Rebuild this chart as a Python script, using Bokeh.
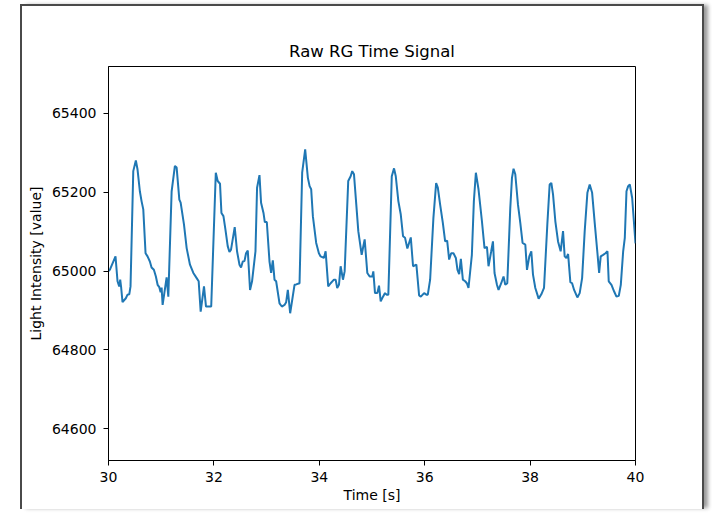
from bokeh.plotting import figure
from bokeh.models import FixedTicker
from bokeh.embed import file_html
from bokeh.resources import INLINE

title_text = "Raw RG Time Signal"
x_label = "Time [s]"
y_label = "Light Intensity [value]"
x_ticks = [30, 32, 34, 36, 38, 40]
y_ticks = [64600, 64800, 65000, 65200, 65400]

time_s = [
    30.000, 30.025, 30.133, 30.171, 30.203, 30.222, 30.241, 30.266, 30.329, 30.361,
    30.394, 30.418, 30.470, 30.519, 30.551, 30.595, 30.627, 30.660, 30.703, 30.741,
    30.785, 30.817, 30.861, 30.899, 30.932, 30.964, 30.989, 31.008, 31.027, 31.103,
    31.135, 31.198, 31.260, 31.293, 31.344, 31.369, 31.432, 31.483, 31.546, 31.610,
    31.673, 31.711, 31.749, 31.812, 31.850, 31.949, 32.036, 32.072, 32.116, 32.143,
    32.181, 32.219, 32.262, 32.295, 32.325, 32.395, 32.439, 32.485, 32.515, 32.548,
    32.580, 32.610, 32.643, 32.686, 32.724, 32.789, 32.819, 32.865, 32.895, 32.941,
    32.966, 33.004, 33.055, 33.086, 33.118, 33.150, 33.181, 33.245, 33.289, 33.340,
    33.371, 33.403, 33.447, 33.530, 33.561, 33.625, 33.675, 33.732, 33.783, 33.816,
    33.846, 33.878, 33.941, 33.992, 34.025, 34.087, 34.120, 34.169, 34.215, 34.278,
    34.310, 34.340, 34.373, 34.405, 34.449, 34.481, 34.549, 34.595, 34.625, 34.658,
    34.702, 34.740, 34.804, 34.861, 34.911, 34.956, 35.006, 35.025, 35.057, 35.101,
    35.133, 35.165, 35.209, 35.247, 35.279, 35.310, 35.375, 35.418, 35.451, 35.500,
    35.546, 35.589, 35.627, 35.671, 35.736, 35.779, 35.842, 35.894, 35.926, 35.989,
    36.032, 36.059, 36.103, 36.165, 36.217, 36.249, 36.293, 36.344, 36.388, 36.426,
    36.464, 36.502, 36.546, 36.591, 36.622, 36.654, 36.686, 36.724, 36.768, 36.800,
    36.831, 36.895, 36.933, 36.971, 37.021, 37.086, 37.135, 37.181, 37.211, 37.262,
    37.295, 37.325, 37.371, 37.401, 37.452, 37.496, 37.529, 37.567, 37.624, 37.656,
    37.686, 37.719, 37.770, 37.814, 37.857, 37.909, 37.941, 37.985, 38.023, 38.055,
    38.099, 38.162, 38.213, 38.264, 38.327, 38.371, 38.403, 38.435, 38.479, 38.530,
    38.580, 38.625, 38.656, 38.688, 38.721, 38.764, 38.797, 38.835, 38.897, 38.941,
    38.987, 39.036, 39.087, 39.131, 39.177, 39.226, 39.278, 39.310, 39.340, 39.386,
    39.430, 39.468, 39.492, 39.544, 39.595, 39.639, 39.683, 39.721, 39.766, 39.797,
    39.829, 39.861, 39.892, 39.937, 40.000,
]

intensity = [
    65000, 65003, 65037, 64974, 64961, 64978, 64957, 64921, 64931, 64940,
    64941, 64961, 65253, 65280, 65257, 65202, 65177, 65156, 65045, 65037,
    65024, 65009, 65003, 64986, 64965, 64959, 64946, 64958, 64914, 64984,
    64935, 65202, 65266, 65262, 65181, 65173, 65118, 65058, 65016, 64995,
    64982, 64974, 64897, 64961, 64910, 64910, 65249, 65228, 65221, 65147,
    65139, 65105, 65063, 65048, 65054, 65111, 65050, 65016, 65009, 65024,
    65025, 65045, 65052, 64952, 64974, 65050, 65211, 65243, 65173, 65147,
    65124, 65124, 65024, 64995, 65027, 64978, 64974, 64918, 64910, 64914,
    64921, 64952, 64893, 64965, 64966, 64969, 65249, 65308, 65236, 65215,
    65207, 65139, 65071, 65045, 65037, 65033, 65050, 64961, 64969, 64978,
    64978, 64957, 64965, 65012, 64978, 64999, 65228, 65240, 65253, 65245,
    65168, 65101, 65041, 65080, 64995, 64986, 64986, 64999, 64944, 64944,
    64963, 64923, 64935, 64944, 64940, 64940, 65240, 65260, 65240, 65177,
    65143, 65088, 65084, 65057, 65085, 65012, 65016, 64938, 64935, 64944,
    64940, 64940, 64978, 65134, 65223, 65211, 65168, 65122, 65075, 65077,
    65029, 65045, 65045, 65033, 65003, 64992, 65031, 64978, 64974, 64969,
    64957, 65041, 65177, 65249, 65207, 65126, 65058, 65061, 65012, 65050,
    65075, 64995, 64965, 64952, 64969, 64986, 64965, 64969, 65160, 65236,
    65259, 65245, 65168, 65122, 65071, 65067, 65003, 65037, 65050, 64991,
    64957, 64930, 64941, 64957, 65118, 65219, 65223, 65194, 65126, 65075,
    65050, 65101, 65037, 65033, 65043, 64972, 64969, 64952, 64933, 64944,
    64982, 65101, 65198, 65219, 65198, 65122, 65045, 64995, 65037, 65041,
    65045, 65050, 64974, 64965, 64948, 64935, 64937, 64965, 65050, 65084,
    65202, 65215, 65219, 65185, 65070,
]

FONT = "DejaVu Sans"

p = figure(
    width=684, height=505,
    x_range=(30, 40), y_range=(64520, 65518),
    output_backend="svg", toolbar_location=None,
    min_border_left=86, min_border_right=71,
    min_border_top=60, min_border_bottom=51,
    margin=(4, 0, 0, 20),
    title=title_text,
    styles={
        "border-top": "2px solid #4a4a4a",
        "border-left": "2px solid #4a4a4a",
        "border-right": "2px solid #4a4a4a",
        "box-shadow": "5px 0px 4px -1px rgba(0,0,0,0.4)",
    },
)

p.line(time_s, intensity, line_color="#1f77b4", line_width=2)

p.title.align = "center"
p.title.text_font = FONT
p.title.text_font_size = "16.5px"
p.title.text_font_style = "normal"
p.title.text_color = "black"
p.title.standoff = 12

p.xgrid.visible = False
p.ygrid.visible = False
p.outline_line_color = "black"
p.outline_line_width = 1
p.background_fill_color = "white"
p.border_fill_color = "white"

p.xaxis.ticker = FixedTicker(ticks=x_ticks)
p.yaxis.ticker = FixedTicker(ticks=y_ticks)
p.xaxis.axis_label = x_label
p.yaxis.axis_label = y_label

for ax in (p.xaxis, p.yaxis):
    ax.axis_line_color = "black"
    ax.major_tick_line_color = "black"
    ax.major_tick_out = 5
    ax.major_tick_in = 0
    ax.minor_tick_line_color = None
    ax.major_label_text_font = FONT
    ax.major_label_text_font_size = "14px"
    ax.major_label_text_color = "black"
    ax.axis_label_text_font = FONT
    ax.axis_label_text_font_size = "14px"
    ax.axis_label_text_font_style = "normal"
    ax.axis_label_text_color = "black"

p.xaxis.major_label_standoff = 6
p.yaxis.major_label_standoff = 7
p.xaxis.axis_label_standoff = 2
p.yaxis.axis_label_standoff = 5

open("out.html", "w").write(file_html(p, INLINE))
